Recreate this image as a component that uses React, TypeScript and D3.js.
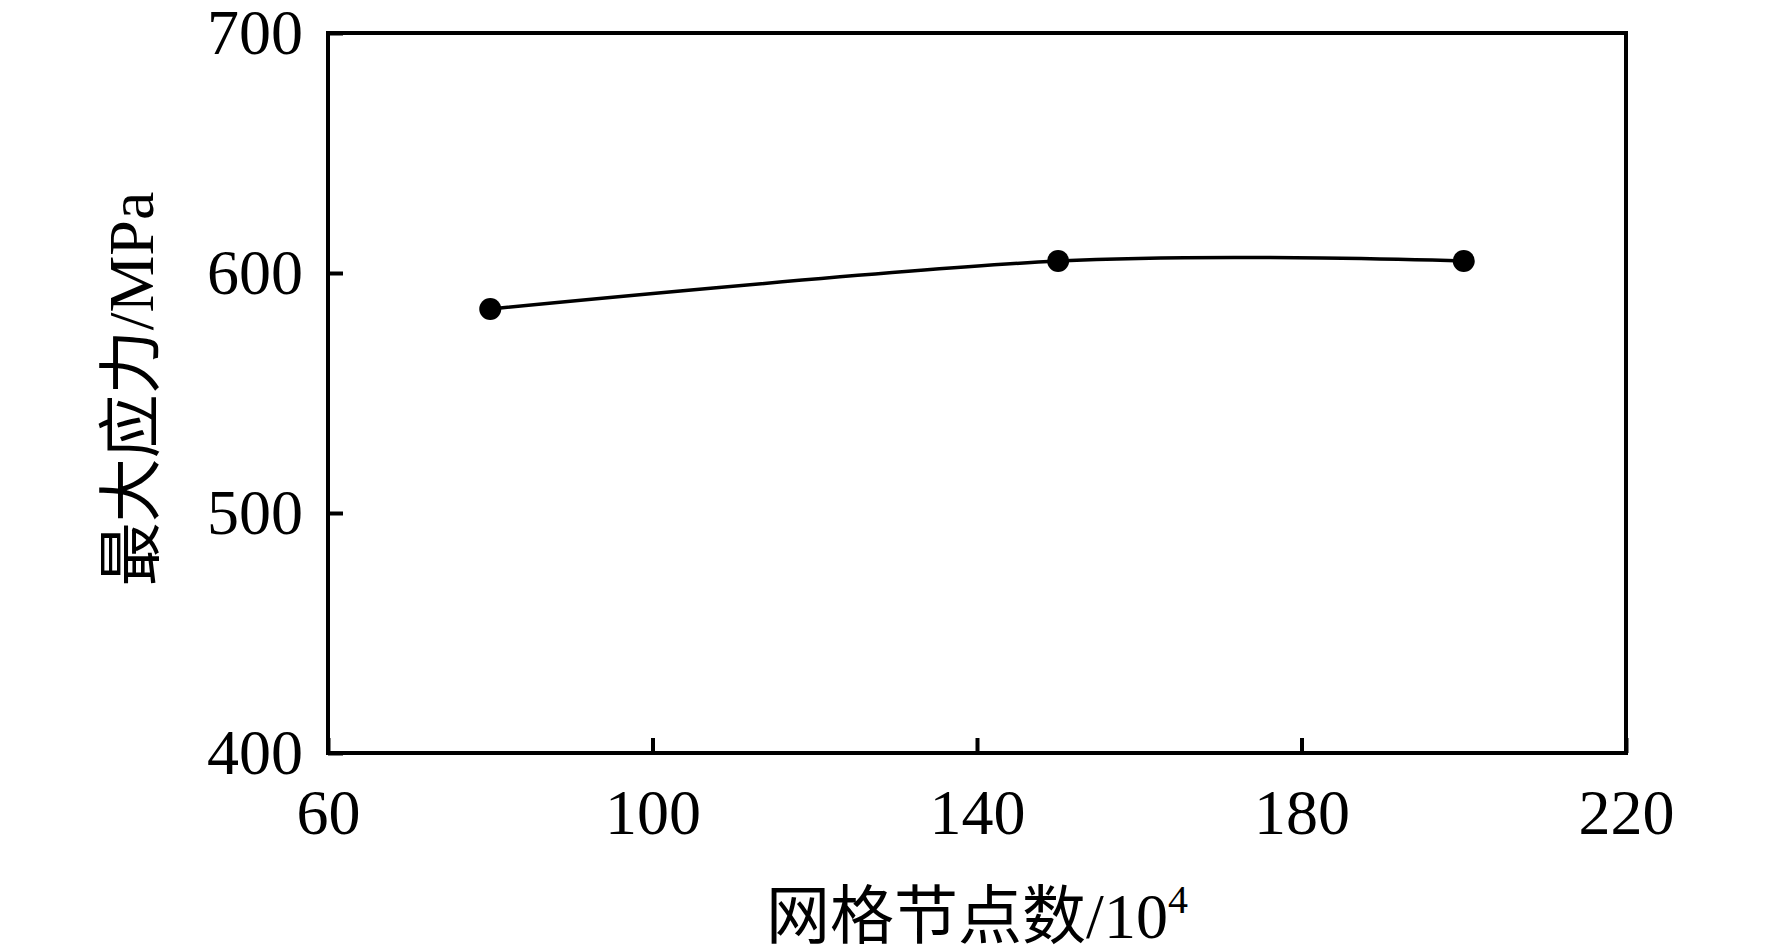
import * as d3 from 'd3'
import { useEffect, useRef } from 'react'

const nodes = [80, 150, 200]
const stress = [585, 605, 605]
const xTicks = [60, 100, 140, 180, 220]
const yTicks = [400, 500, 600, 700]

const W = 1772
const H = 951
const margin = { top: 33, right: 146, bottom: 198, left: 328 }
const width = W - margin.left - margin.right
const height = H - margin.top - margin.bottom

const serif = '"Liberation Serif", "Times New Roman", serif'
const cjk = '"Liberation Serif", "Noto Sans CJK SC", serif'

export default function App() {
  const ref = useRef<SVGSVGElement>(null)

  useEffect(() => {
    const svg = d3.select(ref.current)
    svg.selectAll('*').remove()

    const x = d3.scaleLinear().domain([60, 220]).range([0, width])
    const y = d3.scaleLinear().domain([400, 700]).range([height, 0])

    const g = svg
      .append('g')
      .attr('transform', `translate(${margin.left}, ${margin.top})`)

    // frame
    g.append('rect')
      .attr('width', width)
      .attr('height', height)
      .attr('fill', 'none')
      .attr('stroke', '#000')
      .attr('stroke-width', 4)

    const xAxis = d3
      .axisBottom(x)
      .tickValues(xTicks)
      .tickSizeInner(-15)
      .tickSizeOuter(0)
      .tickPadding(36)
    const gx = g
      .append('g')
      .attr('transform', `translate(0, ${height})`)
      .call(xAxis)
    gx.select('.domain').remove()
    gx.selectAll('line').attr('stroke-width', 4)
    gx.selectAll('text')
      .attr('font-family', serif)
      .attr('font-size', 64)
      .attr('fill', '#000')

    const yAxis = d3
      .axisLeft(y)
      .tickValues(yTicks)
      .tickSizeInner(-15)
      .tickSizeOuter(0)
      .tickPadding(25)
    const gy = g.append('g').call(yAxis)
    gy.select('.domain').remove()
    gy.selectAll('line').attr('stroke-width', 4)
    gy.selectAll('text')
      .attr('font-family', serif)
      .attr('font-size', 64)
      .attr('fill', '#000')

    const data = nodes.map((n, i) => [n, stress[i]] as [number, number])

    const line = d3
      .line<[number, number]>()
      .x((d) => x(d[0]))
      .y((d) => y(d[1]))
      .curve(d3.curveCatmullRom.alpha(0))

    g.append('path')
      .datum(data)
      .attr('d', line)
      .attr('fill', 'none')
      .attr('stroke', '#000')
      .attr('stroke-width', 3.5)

    g.selectAll('circle.pt')
      .data(data)
      .enter()
      .append('circle')
      .attr('class', 'pt')
      .attr('cx', (d) => x(d[0]))
      .attr('cy', (d) => y(d[1]))
      .attr('r', 11)
      .attr('fill', '#000')

    // axis titles
    const xt = svg
      .append('text')
      .attr('x', margin.left + width / 2)
      .attr('y', 938)
      .attr('text-anchor', 'middle')
      .attr('font-family', cjk)
      .attr('font-size', 64)
      .attr('fill', '#000')
    xt.append('tspan').text('网格节点数/10')
    xt.append('tspan').attr('font-size', 40).attr('dy', -25).text('4')

    svg
      .append('text')
      .attr('transform', `translate(153, 389) rotate(-90)`)
      .attr('text-anchor', 'middle')
      .attr('font-family', cjk)
      .attr('font-size', 64)
      .attr('fill', '#000')
      .text('最大应力/MPa')
  }, [])

  return (
    <svg
      ref={ref}
      width={W}
      height={H}
      style={{ position: 'absolute', left: 0, top: 0, background: '#fff' }}
    />
  )
}
